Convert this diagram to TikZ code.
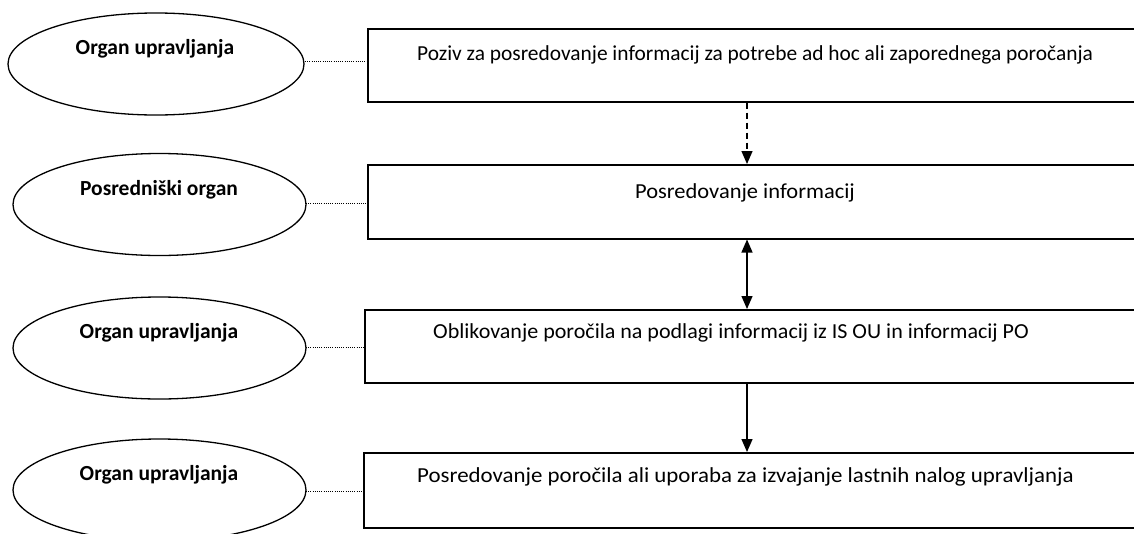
\documentclass[tikz,border=0pt]{standalone}
\usepackage{fontspec}
\setmainfont{Carlito}
\usetikzlibrary{arrows.meta,shapes.geometric}
\tikzset{
  ell/.style={draw, line width=1.3pt, ellipse, inner sep=0pt, minimum width=293pt, minimum height=102pt},
  stepbox/.style={draw, line width=1.5pt, rectangle, inner sep=0pt, minimum width=772pt},
  etext/.style={font=\fontsize{21.5}{24}\selectfont\bfseries, inner sep=0pt},
  btext/.style={font=\fontsize{21.4}{24}\selectfont, inner sep=0pt, anchor=west},
  link/.style={line width=0.7pt, dash pattern=on 1pt off 1.2pt},
  flow/.style={line width=1.3pt, -{Triangle[width=11pt,length=13pt]}},
}
\begin{document}
\begin{tikzpicture}[x=1pt,y=-1pt]
\useasboundingbox (0,0) rectangle (1134,533);
% ellipses
\node[ell, minimum width=296pt] (e1) at (156,64) {};
\node[ell] (e2) at (159.5,204.5) {};
\node[ell] (e3) at (159.5,348) {};
\node[ell] (e4) at (159.5,490) {};
\node[etext] (t1) at (155,49) {Organ upravljanja};
\node[etext] (t2) at (159,190) {Posredniški organ};
\node[etext] (t3) at (159,333) {Organ upravljanja};
\node[etext] (t4) at (159,475) {Organ upravljanja};
% boxes
\node[stepbox, minimum height=73pt, anchor=north west] (b1) at (367,28) {};
\node[stepbox, minimum height=74pt, anchor=north west] (b2) at (367,164) {};
\node[stepbox, minimum height=73pt, anchor=north west] (b3) at (364,309) {};
\node[stepbox, minimum height=75pt, anchor=north west] (b4) at (363,452) {};
\node[btext] (p1) at (417,55) {Poziv za posredovanje informacij za potrebe ad hoc ali zaporednega poročanja};
\node[btext, anchor=center] (p2) at (745,193) {\scalebox{1.05}[1]{Posredovanje informacij}};
\node[btext] (p3) at (433,333) {\scalebox{1.03}[1]{Oblikovanje poročila na podlagi informacij iz IS OU in informacij PO}};
\node[btext] (p4) at (417,477) {\scalebox{1.07}[1]{Posredovanje poročila ali uporaba za izvajanje lastnih nalog upravljanja}};
% dotted links
\coordinate (d1) at (305,61);
\coordinate (d2) at (306,203);
\coordinate (d3) at (306,347);
\coordinate (d4) at (306,491);
\draw[link] (d1) -- (d1 -| b1.west);
\draw[link] (d2) -- (d2 -| b2.west);
\draw[link] (d3) -- (d3 -| b3.west);
\draw[link] (d4) -- (d4 -| b4.west);
% flow arrows
\coordinate (ax) at (747,0);
\draw[flow, dash pattern=on 6pt off 4pt] (b1.south -| ax) -- (b2.north -| ax);
\draw[flow, {Triangle[width=11pt,length=13pt]}-{Triangle[width=11pt,length=13pt]}] (b2.south -| ax) -- (b3.north -| ax);
\draw[flow] (b3.south -| ax) -- (b4.north -| ax);
\end{tikzpicture}
\end{document}
